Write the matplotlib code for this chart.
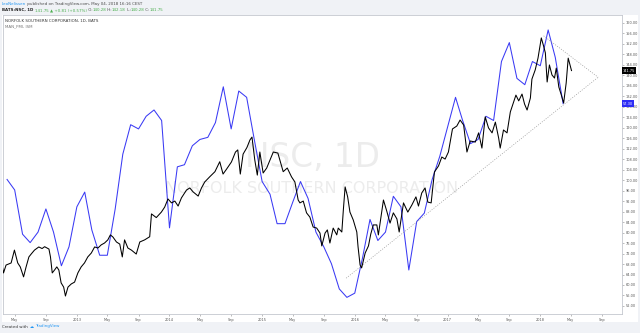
import matplotlib
matplotlib.use("Agg")
import matplotlib.pyplot as plt
import matplotlib.transforms as mtrans
from matplotlib.patches import Rectangle
import pandas as pd

PRICE_DATES = [
    "2012-03-13", "2012-03-18", "2012-03-28", "2012-04-17", "2012-04-30", "2012-05-13",
    "2012-05-23", "2012-06-05", "2012-06-15", "2012-06-26", "2012-07-05", "2012-07-18",
    "2012-08-04", "2012-08-17", "2012-08-27", "2012-09-13", "2012-09-19", "2012-09-26",
    "2012-10-05", "2012-10-14", "2012-10-22", "2012-10-31", "2012-11-10", "2012-11-17",
    "2012-11-27", "2012-12-10", "2012-12-23", "2013-01-05", "2013-01-18", "2013-01-31",
    "2013-02-13", "2013-02-27", "2013-03-12", "2013-03-25", "2013-04-07", "2013-04-20",
    "2013-05-03", "2013-05-13", "2013-05-23", "2013-06-06", "2013-06-19", "2013-06-29",
    "2013-07-08", "2013-07-21", "2013-08-04", "2013-08-23", "2013-09-06", "2013-09-25",
    "2013-10-15", "2013-10-22", "2013-11-10", "2013-11-30", "2013-12-13", "2013-12-26",
    "2014-01-09", "2014-01-22", "2014-02-04", "2014-02-17", "2014-03-09", "2014-03-22",
    "2014-04-04", "2014-04-24", "2014-05-07", "2014-05-20", "2014-06-09", "2014-06-29",
    "2014-07-18", "2014-07-31", "2014-08-14", "2014-09-02", "2014-09-18", "2014-09-27",
    "2014-10-07", "2014-10-18", "2014-11-02", "2014-11-14", "2014-11-22", "2014-12-03",
    "2014-12-13", "2014-12-23", "2015-01-05", "2015-01-19", "2015-02-01", "2015-02-14",
    "2015-03-04", "2015-03-25", "2015-04-10", "2015-04-27", "2015-05-10", "2015-05-23",
    "2015-05-30", "2015-06-12", "2015-06-25", "2015-07-08", "2015-07-21", "2015-08-04",
    "2015-08-17", "2015-08-24", "2015-09-06", "2015-09-15", "2015-09-25", "2015-10-08",
    "2015-10-22", "2015-10-28", "2015-11-11", "2015-11-17", "2015-11-24", "2015-12-04",
    "2015-12-13", "2015-12-26", "2016-01-09", "2016-01-14", "2016-01-22", "2016-01-28",
    "2016-02-11", "2016-02-24", "2016-03-04", "2016-03-14", "2016-03-28", "2016-04-03",
    "2016-04-23", "2016-05-06", "2016-05-19", "2016-06-01", "2016-06-15", "2016-06-24",
    "2016-07-11", "2016-07-28", "2016-08-13", "2016-08-29", "2016-09-08", "2016-09-21",
    "2016-10-04", "2016-10-15", "2016-10-28", "2016-11-10", "2016-11-26", "2016-12-09",
    "2016-12-22", "2017-01-04", "2017-01-20", "2017-02-06", "2017-02-19", "2017-03-05",
    "2017-03-18", "2017-03-31", "2017-04-20", "2017-05-03", "2017-05-16", "2017-05-29",
    "2017-06-11", "2017-06-25", "2017-07-08", "2017-07-21", "2017-07-27", "2017-08-09",
    "2017-08-23", "2017-09-05", "2017-09-18", "2017-09-27", "2017-10-08", "2017-10-21",
    "2017-10-31", "2017-11-10", "2017-11-23", "2017-11-29", "2017-12-12", "2017-12-23",
    "2018-01-05", "2018-01-14", "2018-01-21", "2018-01-28", "2018-02-06", "2018-02-16",
    "2018-02-26", "2018-03-05", "2018-03-15", "2018-03-25", "2018-04-03", "2018-04-13",
    "2018-04-21", "2018-05-04",
]
PRICE = [
    67.2, 64.6, 67.6, 68.4, 73.3, 68.4,
    66.9, 63.1, 66.9, 70.7, 71.8, 73.3,
    74.5, 73.9, 74.6, 73.7, 70.7, 64.6,
    65.7, 66.9, 65.7, 60.8, 59.2, 55.8,
    59.2, 60.4, 61.1, 64.6, 66.9, 68.4,
    70.7, 72.2, 74.5, 74.1, 75.3, 76.0,
    77.2, 79.1, 78.3, 76.4, 75.6, 70.7,
    77.2, 74.1, 73.3, 71.8, 76.4, 77.2,
    78.4, 87.1, 85.7, 87.8, 89.7, 92.8,
    91.3, 92.0, 90.1, 93.2, 96.2, 97.0,
    95.5, 93.9, 97.0, 99.3, 101.3, 103.2,
    107.0, 102.3, 104.2, 106.9, 110.7, 111.5,
    102.3, 109.9, 112.4, 115.3, 116.4, 107.7,
    101.9, 110.7, 102.7, 104.6, 107.7, 110.7,
    110.3, 103.2, 104.6, 101.2, 99.3, 92.4,
    91.3, 92.0, 87.5, 85.9, 82.1, 81.7,
    79.8, 74.9, 79.8, 81.0, 76.0, 81.7,
    79.1, 81.7, 80.2, 88.6, 97.4, 93.6,
    87.8, 84.8, 80.2, 74.5, 67.6, 66.5,
    72.2, 74.9, 79.4, 82.9, 82.9, 79.1,
    92.4, 88.2, 83.6, 87.5, 85.2, 80.2,
    91.3, 87.8, 90.5, 93.6, 90.1, 95.1,
    97.0, 91.6, 91.3, 103.1, 105.4, 108.8,
    108.0, 110.7, 119.5, 120.6, 122.9, 121.0,
    110.7, 114.9, 114.5, 118.0, 112.2, 124.1,
    119.9, 118.0, 122.1, 116.0, 112.2, 119.1,
    118.0, 126.0, 129.8, 132.4, 130.2, 132.8,
    129.0, 126.7, 131.3, 138.5, 142.0, 146.5,
    154.2, 151.1, 148.5, 137.4, 143.9, 140.1,
    138.9, 142.7, 135.5, 132.4, 129.4, 137.0,
    146.5, 141.75,
]
# ISM manufacturing PMI, monthly from Apr 2012 to Apr 2018 (own hidden scale)
PMI_START = "2012-04-01"
PMI = [
    53.7, 53.2, 51.1, 50.7, 51.2, 52.3, 51.2, 49.6, 50.5,
    52.4, 53.1, 51.3, 50.1, 50.1, 52.3, 54.9, 56.3, 56.1, 56.7, 57.0, 56.5,
    51.4, 54.3, 54.4, 55.3, 55.6, 55.7, 56.4, 58.1, 56.1, 57.9, 57.6, 55.6,
    53.6, 53.0, 51.6, 51.6, 52.6, 53.6, 52.8, 51.2, 50.5, 49.7, 48.5, 48.1,
    48.3, 50.0, 51.8, 50.8, 51.2, 52.9, 52.4, 49.4, 51.7, 52.1, 53.7, 54.8,
    56.2, 57.6, 56.5, 55.4, 55.6, 56.7, 56.5, 59.3, 60.2, 58.5, 58.2, 59.3,
    59.1, 60.8, 59.5, 57.3,
]
TREND_LOW_DATES = ["2015-11-28", "2018-08-17"]
TREND_LOW = [62.6, 139.2]
TREND_HIGH_DATES = ["2018-01-14", "2018-08-17"]
TREND_HIGH = [155.0, 139.2]

PRICE_TICKS = list(range(52, 161, 4))
XTICK_DATES = ["2012-05-01", "2012-09-01", "2013-01-01", "2013-05-01", "2013-09-01",
               "2014-01-01", "2014-05-01", "2014-09-01", "2015-01-01", "2015-05-01",
               "2015-09-01", "2016-01-01", "2016-05-01", "2016-09-01", "2017-01-01",
               "2017-05-01", "2017-09-01", "2018-01-01", "2018-05-01", "2018-09-01"]
XTICK_LABELS = ["May", "Sep", "2013", "May", "Sep", "2014", "May", "Sep", "2015", "May",
                "Sep", "2016", "May", "Sep", "2017", "May", "Sep", "2018", "May", "Sep"]
LAST_PRICE = 141.75
LAST_PMI = 57.30

# --- STYLE ---
BG = "#f0f2f6"
C_PMI = "#3a3af4"
C_GREEN = "#4caf50"
C_LINK = "#2196f3"
C_TXT = "#4a4a4a"
C_GRID = "#c4c7ce"
W, H = 640, 333


def fx(px):
    return px / W


def fy(py):
    return 1 - py / H


def rainbow(ax, x, y, parts, size):
    """Draw differently coloured text runs one after another (figure px coords)."""
    t = ax.figure.text(fx(x), fy(y), parts[0][0], color=parts[0][1], fontsize=size,
                       va="center", ha="left", fontweight=parts[0][2] if len(parts[0]) > 2 else "normal")
    for p in parts[1:]:
        t = ax.annotate(p[0], xy=(1, 0.5), xycoords=t, va="center", ha="left",
                        color=p[1], fontsize=size, annotation_clip=False,
                        fontweight=p[2] if len(p) > 2 else "normal")
    return t


def main():
    fig = plt.figure(figsize=(6.4, 3.33), dpi=100, facecolor=BG)
    fig.patches.append(Rectangle((fx(2), fy(322)), fx(638) - fx(2), fy(15) - fy(322),
                                 transform=fig.transFigure, facecolor="white",
                                 edgecolor="none", zorder=-5))

    ax = fig.add_axes([fx(2.5), fy(314), fx(621.5) - fx(2.5), fy(15) - fy(314)])
    ax2 = ax.twinx()
    ax.set_zorder(ax2.get_zorder() + 1)
    ax.patch.set_visible(False)
    ax2.patch.set_visible(False)

    pdates = pd.to_datetime(PRICE_DATES)
    pmi_dates = pd.date_range(PMI_START, periods=len(PMI), freq="MS")

    # watermark
    ax2.text(0.5, 0.525, "NSC, 1D", transform=ax2.transAxes, ha="center", va="center",
             fontsize=23.5, color="#ececec", zorder=0)
    ax2.text(0.5, 0.421, "NORFOLK SOUTHERN CORPORATION", transform=ax2.transAxes,
             ha="center", va="center", fontsize=11.5, color="#ececec", zorder=0)

    ax2.plot(pmi_dates, PMI, color=C_PMI, lw=0.75, zorder=2)
    ax.plot(pdates, PRICE, color="black", lw=0.75, zorder=3)
    ax.plot(pd.to_datetime(TREND_LOW_DATES), TREND_LOW, color="#999999", lw=0.5,
            ls=(0, (1.5, 2)), zorder=2)
    ax.plot(pd.to_datetime(TREND_HIGH_DATES), TREND_HIGH, color="#999999", lw=0.5,
            ls=(0, (1.5, 2)), zorder=2)

    ax.set_xlim(pd.Timestamp("2012-03-14"), pd.Timestamp("2018-11-17"))
    ax.set_ylim(48.94, 162.94)
    ax2.set_ylim(47.31, 61.51)

    ax.yaxis.tick_right()
    ax.set_yticks(PRICE_TICKS)
    ax.set_yticklabels([f"{v:.2f}" for v in PRICE_TICKS])
    ax.set_xticks(pd.to_datetime(XTICK_DATES))
    ax.set_xticklabels(XTICK_LABELS)
    ax.tick_params(axis="both", length=1.5, width=0.4, color="#8a8a8a",
                   labelsize=2.5, labelcolor="#555555", pad=1.5)
    ax2.set_yticks([])
    for s in ax.spines.values():
        s.set_color(C_GRID)
        s.set_linewidth(0.6)
    for s in ax2.spines.values():
        s.set_visible(False)

    # last-value tags on the price scale
    ax.text(1.002, LAST_PRICE, f"{LAST_PRICE:.2f}",
            transform=mtrans.blended_transform_factory(ax.transAxes, ax.transData),
            ha="left", va="center", fontsize=2.5, color="white", clip_on=False, zorder=5,
            bbox=dict(boxstyle="square,pad=0.35", fc="black", ec="none"))
    ax.text(1.002, LAST_PMI, f"{LAST_PMI:.2f}",
            transform=mtrans.blended_transform_factory(ax.transAxes, ax2.transData),
            ha="left", va="center", fontsize=2.5, color="white", clip_on=False, zorder=5,
            bbox=dict(boxstyle="square,pad=0.35", fc="#2d2df5", ec="none"))

    # header
    rainbow(ax, 2, 4, [("LeoNelissen", C_LINK),
                       (" published on TradingView.com, May 04, 2018 16:16 CEST", C_TXT)], 2.9)
    rainbow(ax, 2, 10, [("BATS:NSC, 1D ", "#222222", "bold"),
                        ("141.75 \u25b2 +0.81 (+0.57%)", C_GREEN),
                        (" O:", C_TXT), ("140.28", C_GREEN),
                        (" H:", C_TXT), ("142.18", C_GREEN),
                        (" L:", C_TXT), ("140.28", C_GREEN),
                        (" C:", C_TXT), ("141.75", C_GREEN)], 2.9)
    fig.text(fx(5), fy(21), "NORFOLK SOUTHERN CORPORATION, 1D, BATS", fontsize=2.9,
             color="#333333", va="center", ha="left")
    fig.text(fx(5), fy(26.7), "MAN_PMI, ISM", fontsize=2.9, color="#777777",
             va="center", ha="left")

    # footer
    rainbow(ax, 2.5, 326.5, [("Created with ", "#333333"), ("\u2601 ", C_LINK),
                             ("TradingView", C_LINK)], 2.9)

    fig.savefig("out.png", dpi=100, facecolor=BG)


if __name__ == "__main__":
    main()
